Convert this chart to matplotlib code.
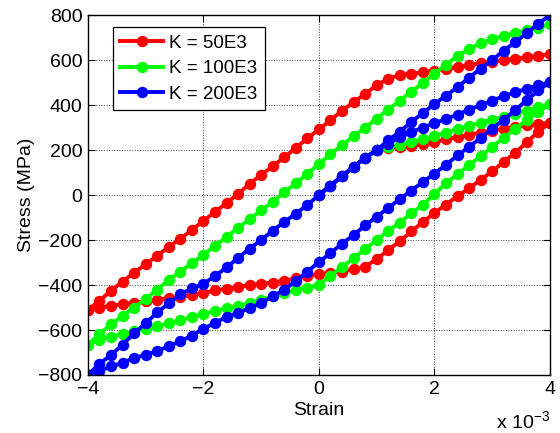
import matplotlib
matplotlib.use('Agg')
import matplotlib.pyplot as plt

# strain grid, units of 1e-3
strain_up = [-4.0, -3.8, -3.6, -3.4, -3.2, -3.0, -2.8, -2.6, -2.4, -2.2, -2.0,
             -1.8, -1.6, -1.4, -1.2, -1.0, -0.8, -0.6, -0.4, -0.2, 0.0,
             0.2, 0.4, 0.6, 0.8, 1.0, 1.2, 1.4, 1.6, 1.8, 2.0,
             2.2, 2.4, 2.6, 2.8, 3.0, 3.2, 3.4, 3.6, 3.8, 4.0]
strain_load = strain_up[20:]
strain_down = strain_up[::-1]

# K = 50E3 (stress in MPa)
red_load = [0, 42, 84, 126, 165, 200, 210, 213, 218, 225, 235,
            248, 258, 268, 278, 287, 295, 303, 310, 316, 322]
red_unload = [322, 282, 235, 188, 148, 105, 68, 30, -5, -42, -80,
              -120, -162, -205, -245, -285, -318, -330, -340, -346, -352,
              -360, -370, -381, -389, -395, -400, -408, -416, -424, -436,
              -444, -452, -459, -466, -473, -479, -485, -492, -500, -510]
red_reload = [-510, -470, -425, -385, -345, -308, -270, -230, -195, -155, -115,
              -75, -35, 5, 50, 90, 128, 168, 210, 252, 292,
              333, 375, 413, 450, 488, 518, 533, 540, 546, 553,
              561, 569, 578, 586, 592, 599, 606, 613, 619, 627]

# K = 100E3
green_load = [0, 42, 84, 126, 165, 200, 213, 222, 235, 250, 262,
              278, 293, 308, 322, 336, 349, 362, 376, 391, 405]
green_unload = [405, 370, 333, 295, 255, 215, 172, 133, 92, 52, 5,
                -44, -81, -122, -160, -200, -240, -281, -320, -358, -398,
                -412, -423, -437, -451, -466, -480, -494, -503, -516, -528,
                -541, -556, -569, -584, -596, -606, -617, -629, -643, -665]
green_reload = [-665, -618, -575, -537, -500, -463, -420, -378, -340, -303, -266,
                -225, -187, -145, -108, -68, -30, 12, 52, 95, 138,
                182, 222, 262, 300, 340, 380, 420, 460, 498, 540,
                580, 618, 650, 675, 693, 708, 721, 733, 745, 760]

# K = 200E3
blue_load = [0, 42, 84, 126, 165, 200, 228, 256, 280, 300, 320,
             338, 358, 380, 400, 420, 440, 457, 473, 488, 502]
blue_unload = [502, 465, 422, 378, 335, 295, 253, 215, 176, 135, 95,
               58, 20, -18, -58, -96, -135, -178, -216, -258, -298,
               -340, -383, -420, -451, -480, -503, -524, -542, -568, -595,
               -625, -650, -672, -694, -710, -725, -746, -762, -782, -800]
blue_reload = [-800, -750, -712, -665, -615, -570, -522, -482, -442, -415, -395,
               -360, -322, -280, -238, -200, -158, -120, -82, -44, 0,
               42, 84, 126, 165, 200, 243, 282, 325, 365, 405,
               442, 480, 522, 562, 600, 642, 680, 720, 762, 800]

labels = ['K = 50E3', 'K = 100E3', 'K = 200E3']
colors = ['#ff0000', '#00ff00', '#0000ff']

plt.rcParams['font.family'] = ['Liberation Sans', 'DejaVu Sans']

fig = plt.figure(figsize=(5.6, 4.33), dpi=100)
ax = fig.add_axes([0.157, 0.134, 0.825, 0.831])

curves = [(red_load, red_unload, red_reload),
          (green_load, green_unload, green_reload),
          (blue_load, blue_unload, blue_reload)]
for (ld, ul, rl), lab, c in zip(curves, labels, colors):
    xs = strain_load + strain_down + strain_up
    ys = ld + ul + rl
    ax.plot(xs, ys, '-o', color=c, lw=2.8, ms=7.2, mec=c, label=lab)

ax.set_xlim(-4, 4)
ax.set_ylim(-800, 800)
ax.set_xticks([-4, -2, 0, 2, 4])
ax.set_yticks(range(-800, 801, 200))
ax.tick_params(direction='in', top=True, right=True, labelsize=14, length=5,
               width=0.8, pad=4)
ax.grid(True, linestyle=':', color='0.25', linewidth=0.7)
for s in ax.spines.values():
    s.set_linewidth(1.0)

ax.set_xlabel('Strain', fontsize=14, labelpad=3)
ax.set_ylabel('Stress (MPa)', fontsize=14, labelpad=2)
fig.text(0.885, 0.008, r'x 10$^{\mathregular{-3}}$', fontsize=14)

leg = ax.legend(loc='upper left', bbox_to_anchor=(0.054, 0.967), borderaxespad=0,
                fontsize=13.5, fancybox=False, edgecolor='black', framealpha=1,
                handlelength=2.3, labelspacing=0.45, borderpad=0.4, handletextpad=0.3)
leg.get_frame().set_linewidth(0.9)

fig.savefig('out.png', dpi=100)
